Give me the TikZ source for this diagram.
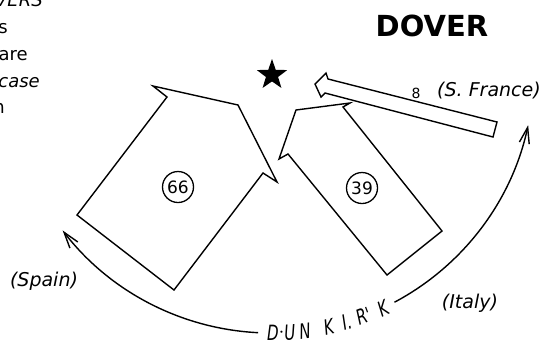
\documentclass[tikz,border=0pt]{standalone}
\usepackage{fontspec}
\setmainfont{DejaVu Sans}
\newfontfamily\narrowfont[FakeStretch=0.72]{DejaVu Sans}
\usetikzlibrary{arrows.meta,shapes.geometric,calc}

\begin{document}
\begin{tikzpicture}[
  x=1pt, y=-1pt,
  >={Straight Barb[length=16pt,width=10pt]},
  block/.style={draw, line width=1.4pt, line join=miter},
  route/.style={draw, line width=1.4pt, ->},
  force/.style={draw, circle, line width=1.3pt, inner sep=0pt, minimum size=31pt, font=\fontsize{17}{17}\selectfont},
  origin/.style={font=\itshape\fontsize{19}{19}\selectfont, inner sep=0pt},
  note/.style={anchor=base east, inner sep=0pt, font=\fontsize{18}{18}\selectfont},
  town/.style={font=\narrowfont\itshape\fontsize{21}{21}\selectfont, inner sep=0pt}
]
  \useasboundingbox (0,0) rectangle (551,341);
  \clip (0,0) rectangle (551,341);

  \node[note] (n1) at (43,6) {\itshape VERS};
  \node[note] (n2) at (8,33) {s};
  \node[note] (n3) at (28,60) {are};
  \node[note] (n4) at (40,87) {\itshape case};
  \node[note] (n5) at (5,113) {n};

  \node[font=\bfseries\fontsize{29}{29}\selectfont, inner sep=0pt] (dover) at (432,26) {DOVER};
  \node[star, star points=5, star point ratio=2.5, fill=black, inner sep=0pt, minimum size=32pt] (star) at (272,75) {};

  \draw[block] (153,86) -- (167,97) -- (77,215) -- (174,290) -- (263,173) -- (277,182) -- (238,105) -- cycle;
  \draw[block] (279,159) -- (288,154) -- (387,275) -- (442,231) -- (343,107) -- (350,103) -- (296,110) -- cycle;
  \draw[block] (315,84) -- (326,73) -- (328,79) -- (497,122) -- (493,137) -- (325,93) -- (321,97) -- cycle;

  \node[force] (f66) at (178,187) {66};
  \node[force] (f39) at (362,188) {39};
  \node[font=\fontsize{14}{14}\selectfont, inner sep=0pt] (f8) at (416,93) {8};
  \node[origin] (france) at (489,91) {(S. France)};
  \node[origin] (spain) at (44,281) {(Spain)};
  \node[origin] (italy) at (470,303) {(Italy)};

  \coordinate (hub) at (271,70);
  \coordinate (westStart) at ($(hub)+(92.8:263)$);
  \coordinate (eastStart) at ($(hub)+(62:263)$);
  \draw[route] (westStart) arc[start angle=92.8, end angle=142.4, radius=263];
  \draw[route] (eastStart) arc[start angle=62, end angle=12.1, radius=263];

  \foreach \ch/\ang [count=\i] in {D/89.6, {$\cdot$}/87.7, U/85.9, N/82.6, K/77.3, I./73.3, R'/69.4, K/64.8}
    \node[town, rotate=90-\ang] (dk\i) at ($(hub)+(\ang:263)$) {\ch};
\end{tikzpicture}
\end{document}
